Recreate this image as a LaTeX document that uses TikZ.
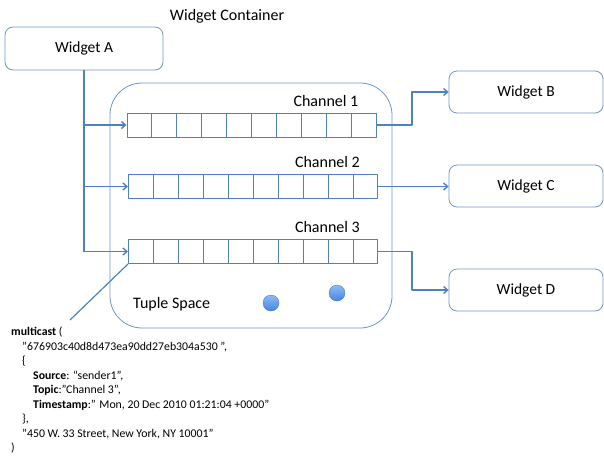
\documentclass[tikz,border=0pt]{standalone}
\usepackage{fontspec}
\setmainfont{Carlito}
\usetikzlibrary{arrows.meta, positioning, calc}
\usepackage{xcolor}
\definecolor{lineblue}{RGB}{79,129,189}
\definecolor{frameblue}{RGB}{110,150,200}
\definecolor{tokenblue}{RGB}{72,132,220}
\definecolor{tokenlight}{RGB}{140,188,245}

\begin{document}
\begin{tikzpicture}[
        x=1pt, y=-1pt,
        line join=round,
        widgetnode/.style={shape=rectangle, rounded corners=8pt, draw=frameblue, line width=0.8pt, minimum width=154pt, minimum height=42pt, font=\fontsize{15.5}{17}\selectfont},
        queuenode/.style={shape=rectangle, draw=lineblue, line width=1pt, minimum width=249pt, minimum height=24pt, inner sep=0pt},
        tokennode/.style={shape=circle, minimum size=16pt, inner sep=0pt, draw=tokenblue!85!black, line width=0.3pt, top color=tokenlight, bottom color=tokenblue},
        labeltext/.style={anchor=west, inner sep=0pt, font=\fontsize{16}{18}\selectfont},
        wire/.style={draw=lineblue, line width=1.4pt},
        feed/.style={wire, -{Straight Barb[length=4pt, width=7pt]}}
        ]
        \useasboundingbox (0, 0) rectangle (604, 455);

        %% Container
        \draw[frameblue, line width=0.8pt, rounded corners=32pt] (110, 83) rectangle (392, 328);
        \node[font=\fontsize{16}{18}\selectfont] (title) at (227, 16) {Widget Container};
        \node[labeltext] (space) at (133, 304) {Tuple Space};

        %% Widgets
        \node[widgetnode, minimum width=158pt, minimum height=43pt] (wa) at (84, 48.5) {Widget A};
        \node[widgetnode] (wb) at (526, 92) {Widget B};
        \node[widgetnode] (wc) at (526, 186) {Widget C};
        \node[widgetnode] (wd) at (526, 290) {Widget D};

        %% Channels
        \node[queuenode] (q1) at (251.5, 125) {};
        \node[queuenode] (q2) at (253, 186.5) {};
        \node[queuenode] (q3) at (253, 251.5) {};
        \foreach \q/\n in {q1/1, q2/2, q3/3} {
            \foreach \i in {1,...,9} {
                \draw[lineblue, line width=1pt] ($(\q.north west)!\i/10!(\q.north east)$) -- ($(\q.south west)!\i/10!(\q.south east)$);
            }
            \node[labeltext, above=6pt of \q.north east, anchor=south east, xshift=-18pt] (lbl\n) {Channel \n};
        }

        %% Tokens
        \node[tokennode] (t1) at (271, 303) {};
        \node[tokennode] (t2) at (337, 293) {};

        %% Feeds from Widget A
        \draw[wire] (wa.south) -- (wa.south |- q3.west);
        \foreach \q in {q1, q2, q3} {
            \draw[feed] (wa.south |- \q.west) -- (\q.west);
        }

        %% Outputs
        \coordinate (bend) at (412, 0);
        \draw[feed] (q1.east) -- (q1.east -| bend) |- (wb.west);
        \draw[feed] (q2.east) -- (q2.east -| wc.west);
        \draw[feed] (q3.east) -- (q3.east -| bend) |- (wd.west);

        %% Message
        \coordinate (note) at (70, 320);
        \draw[lineblue, line width=1.2pt] (q3.south west) -- (note);
        \node[anchor=north west, align=left, inner sep=0pt, font=\fontsize{11.8}{14.5}\selectfont] (msg) at (11, 327) {%
            \textbf{multicast} (\\
            \hspace*{11pt}"676903c40d8d473ea90dd27eb304a530 ",\\
            \hspace*{11pt}\{\\
            \hspace*{22pt}\textbf{Source}: “sender1”,\\
            \hspace*{22pt}\textbf{Topic}:”Channel 3”,\\
            \hspace*{22pt}\textbf{Timestamp}:” Mon, 20 Dec 2010 01:21:04 +0000”\\
            \hspace*{11pt}\},\\
            \hspace*{11pt}"450 W. 33 Street, New York, NY 10001"\\
            )};
\end{tikzpicture}
\end{document}
